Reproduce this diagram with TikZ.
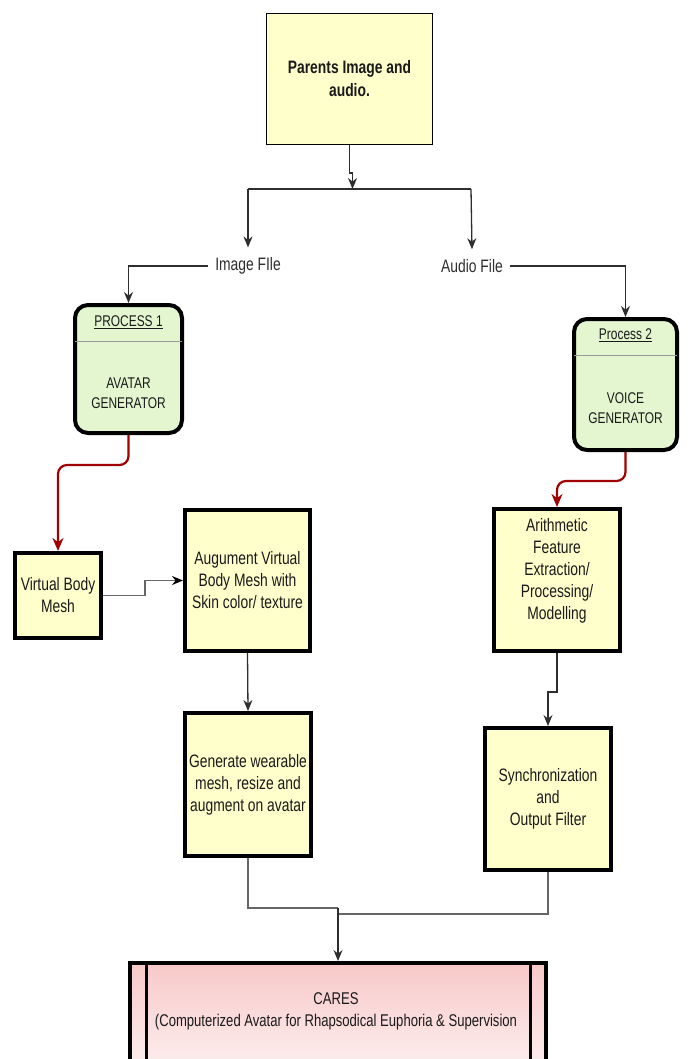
\documentclass[tikz,border=0pt]{standalone}
\usepackage{fontspec}
\setmainfont{Liberation Sans}[FakeStretch=0.77]
\usetikzlibrary{arrows.meta}

\definecolor{boxyellow}{HTML}{FFFFCC}
\definecolor{boxgreen}{HTML}{E4F6CF}
\definecolor{flowred}{HTML}{A00000}
\definecolor{darkline}{HTML}{2E2E2E}
\definecolor{greyline}{HTML}{666666}
\definecolor{carespink}{HTML}{F8C8C8}
\definecolor{inktext}{HTML}{1A1A1A}
\definecolor{sep}{HTML}{9A9A9A}

\tikzset{
  base/.style={inner sep=0pt, align=center, text=inktext,
    font=\fontsize{18}{22}\selectfont},
  stagebox/.style={base, draw=black, line width=4pt, fill=boxyellow},
  inputbox/.style={base, draw=black, line width=1.3pt, fill=boxyellow,
    font=\fontsize{18}{23}\selectfont\bfseries},
  procbox/.style={draw=black, line width=4pt, fill=boxgreen, rounded corners=13pt},
  proctext/.style={base, font=\fontsize{15.5}{20}\selectfont},
  filelabel/.style={base, text=darkline, inner xsep=7pt, inner ysep=10pt},
  tip/.style={-{Stealth[length=11pt,width=9pt]}},
  flow/.style={tip, draw=darkline, line width=1.3pt},
  softflow/.style={draw=greyline, line width=1.4pt},
  softarrow/.style={softflow, -{Stealth[length=11pt,width=9pt,color=black]}},
  redflow/.style={draw=flowred, line width=2.2pt, rounded corners=9pt,
    -{Stealth[length=13pt,width=11pt]}},
}

\begin{document}
\begin{tikzpicture}[x=1pt, y=-1pt]
\useasboundingbox (0,0) rectangle (688,1059);
\clip (0,0) rectangle (688,1059);
\fill[white] (0,0) rectangle (688,1059);

% input
\node[inputbox, minimum width=166pt, minimum height=131pt] (top) at (349.5,79)
  {Parents Image and\\audio.};

% split bar
\coordinate (split) at (352.5,189);
\coordinate (barL) at (248,189);
\coordinate (barR) at (471,189);
\draw[flow] (top.south) -- ++(0,28) -| (split);
\draw[darkline, line width=1.3pt] (barL) -- (barR);

\node[filelabel] (imglbl) at (248,266) {Image FIle};
\node[filelabel] (audlbl) at (472,266) {Audio File};
\draw[flow] (barL) -- (imglbl.north);
\draw[flow] (barR) -- (audlbl.north);

% process 1
\node[procbox, minimum width=107pt, minimum height=128pt] (p1) at (128.5,369) {};
\node[proctext] (p1head) at (128.5,322) {\underline{PROCESS 1}};
\draw[sep, line width=1pt] ([xshift=2pt]p1.west |- 0,341) -- ([xshift=-2pt]p1.east |- 0,341);
\node[proctext] (p1body) at (128.5,393) {AVATAR\\GENERATOR};

% process 2
\node[procbox, minimum width=103pt, minimum height=131pt] (p2) at (625.5,384.5) {};
\node[proctext] (p2head) at (625.5,335) {\underline{Process 2}};
\draw[sep, line width=1pt] ([xshift=2pt]p2.west |- 0,355) -- ([xshift=-2pt]p2.east |- 0,355);
\node[proctext] (p2body) at (625.5,408) {VOICE\\GENERATOR};

\draw[flow] (imglbl.west) -| (p1.north);
\draw[flow] (audlbl.east) -| (p2.north);

% avatar branch
\node[stagebox, minimum width=86pt, minimum height=85pt] (vbm) at (58,595.5)
  {Virtual Body\\Mesh};
\node[stagebox, minimum width=125pt, minimum height=141pt] (aug) at (247.5,580.5)
  {Augument Virtual\\Body Mesh with\\Skin color/ texture};
\node[stagebox, minimum width=126pt, minimum height=143pt] (gen) at (248,784.5)
  {Generate wearable\\mesh, resize and\\augment on avatar};

% voice branch
\node[stagebox, minimum width=126pt, minimum height=142pt] (arith) at (557,580)
  {Arithmetic\\Feature\\Extraction/\\Processing/\\Modelling\\\mbox{}};
\node[stagebox, minimum width=126pt, minimum height=142pt] (sync) at (548,799)
  {Synchronization\\and\\Output Filter};

\draw[redflow] (p1.south) -- (p1.south |- 0,465) -| (vbm.north);
\draw[redflow] (p2.south) -- (p2.south |- 0,481) -| (arith.north);

\draw[softarrow] (vbm.east) -- ++(42,0) |- (aug.west);
\draw[flow] (aug.south) -- (gen.north);
\draw[flow] (arith.south) -- ++(0,39) -| (sync.north);

% output
\node[draw=black, line width=4pt, top color=carespink, bottom color=white,
  minimum width=416pt, minimum height=150pt, anchor=north] (cares) at (338,961) {};
\draw[black, line width=3pt] ([xshift=18pt]cares.north west) -- ([xshift=18pt]cares.south west);
\draw[black, line width=3pt] ([xshift=-18pt]cares.north east) -- ([xshift=-18pt]cares.south east);
\node[base, font=\fontsize{17}{22}\selectfont] (carestext) at (336,1011)
  {CARES\\(Computerized Avatar for Rhapsodical Euphoria \& Supervision};

\coordinate (merge) at (338,908);
\coordinate (merge2) at (338,914);
\draw[softflow] (gen.south) |- (merge);
\draw[softflow] (sync.south) |- (merge2);
\draw[flow] (merge) -- (cares.north);
\end{tikzpicture}
\end{document}
